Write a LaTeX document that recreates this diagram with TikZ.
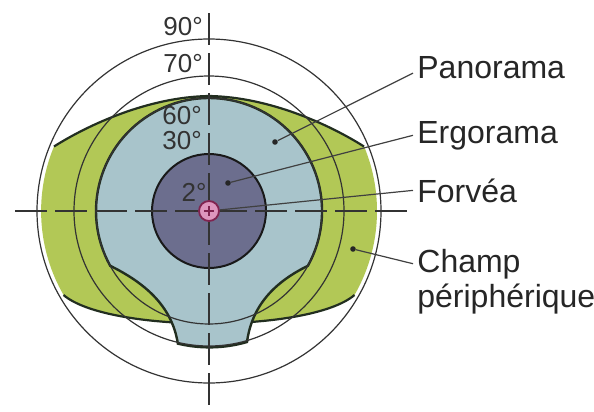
\documentclass[tikz,border=0pt]{standalone}
\usepackage{fontspec}
\setmainfont{Liberation Sans}
\definecolor{periph}{RGB}{178,200,86}
\definecolor{pano}{RGB}{168,196,203}
\definecolor{ergocol}{RGB}{108,110,142}
\definecolor{fovcol}{RGB}{222,150,190}
\definecolor{fovline}{RGB}{128,36,80}
\definecolor{rimcol}{RGB}{34,46,32}
\begin{document}
\begin{tikzpicture}[
  x=0.5pt, y=-0.5pt,
  ring/.style={circle, draw=black!80, line width=0.6pt, inner sep=0pt},
  ergo/.style={circle, draw=black!90, line width=1pt, fill=ergocol, inner sep=0pt, minimum size=57pt},
  fov/.style={circle, draw=fovline, line width=0.9pt, fill=fovcol, inner sep=0pt, minimum size=10pt},
  spot/.style={circle, fill=black!85, inner sep=0pt, minimum size=2.8pt},
  deg/.style={font=\fontsize{13}{15}\selectfont, text=black!80, inner sep=0pt},
  lbl/.style={font=\fontsize{16}{19}\selectfont, text=black!85, inner sep=2pt, anchor=base west},
  leader/.style={line width=0.6pt, black!75},
  rim/.style={line width=1.1pt, rimcol},
  axisline/.style={line width=0.6pt, black!80, dash pattern=on 16pt off 4pt}
]
\useasboundingbox (0,0) rectangle (594,412);

% === Centre and axes ===
\coordinate (O) at (209,211);
\coordinate (axL) at (15,211);
\coordinate (axR) at (407,211);
\coordinate (axT) at (209,13);
\coordinate (axB) at (209,410);

% === Peripheral field (green) ===
\fill[periph] (54,146.5) arc[start angle=202.6, end angle=150, radius=168]
  .. controls (108,333) and (310,333) .. (354.5,295)
  arc[start angle=30, end angle=-22.6, radius=168]
  .. controls (330,125) and (270,97) .. (209,96)
  .. controls (148,97) and (88,125) .. (54,146.5) -- cycle;
\draw[rim] (364,146.5) .. controls (330,125) and (270,97) .. (209,96)
  .. controls (148,97) and (88,125) .. (54,146.5);
\draw[rim] (63.5,295) .. controls (108,333) and (310,333) .. (354.5,295);

% === Panorama (light blue) ===
\filldraw[fill=pano, draw=rimcol, line width=1.2pt]
  (110.2,265.8) arc[start angle=151, end angle=389, radius=113]
  .. controls (275,282) and (252,305) .. (247,342)
  arc[start angle=73.8, end angle=103.5, radius=135]
  .. controls (172,305) and (143,282) .. (110.2,265.8) -- cycle;

% === Angle circles ===
\node[ring, minimum size=172pt] (c90) at (O) {};
\node[ring, minimum size=135pt] (c70) at (O) {};
\node[ring, minimum size=113pt] (c60) at (O) {};

% === Ergorama and fovea ===
\node[ergo] (ergo) at (O) {};
\draw[axisline] (axL) -- (axR);
\draw[axisline] (axT) -- (axB);
\node[fov] (fovea) at (O) {};
\draw[fovline, line width=0.8pt] (204,211) -- (214,211) (209,206) -- (209,216);

% === Degree labels ===
\node[deg] (d90) at (183,27) {90°};
\node[deg] (d70) at (183,64) {70°};
\node[deg] (d60) at (182,116) {60°};
\node[deg] (d30) at (182,141) {30°};
\node[deg] (d2) at (194,192) {2°};

% === Marker dots ===
\node[spot] (pdot) at (275,142) {};
\node[spot] (edot) at (228,183) {};
\node[spot] (cdot) at (353,249) {};

% === Labels ===
\node[lbl] (panorama) at (413,78) {Panorama};
\node[lbl] (ergorama) at (413,143) {Ergorama};
\node[lbl] (forvea) at (413,202) {Forvéa};
\node[lbl] (champ) at (413,272) {Champ};
\node[lbl] (periphl) at (413,307) {périphérique};

% === Leaders ===
\draw[leader] (pdot) -- ([yshift=-3pt]panorama.west);
\draw[leader] (edot) -- (ergorama.west);
\draw[leader] (fovea) -- (forvea.west);
\draw[leader] (cdot) -- (champ.west);

\end{tikzpicture}
\end{document}
